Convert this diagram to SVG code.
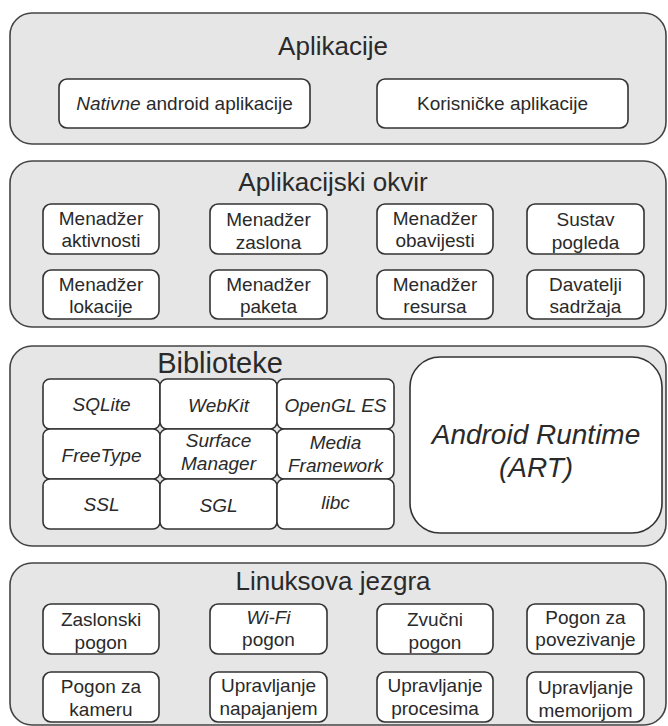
<svg xmlns="http://www.w3.org/2000/svg" width="668" height="726" viewBox="0 0 668 726">
<style>
.panel{fill:#e6e6e6;stroke:#444;stroke-width:1.6}
.box{fill:#fff;stroke:#333;stroke-width:1.6}
text{font-family:"Liberation Sans",Arial,sans-serif;fill:#2a2a2a;text-anchor:middle}
.t{font-size:26px}
.b{font-size:19px}
.i{font-style:italic}
.l{font-size:19px;font-style:italic}
.a{font-size:28px;font-style:italic}
</style>
<rect width="668" height="726" fill="#fff"/>
<g id="aplikacije">
<rect class="panel" x="10" y="13" width="656" height="131" rx="22"/>
<text class="t" x="333" y="55">Aplikacije</text>
<g id="nativne"><rect class="box" x="59" y="79" width="251" height="49" rx="8"/><text class="b" x="184.5" y="110"><tspan class="i">Nativne</tspan> android aplikacije</text></g>
<g id="korisnicke"><rect class="box" x="377" y="79" width="251" height="49" rx="8"/><text class="b" x="502.5" y="110">Korisničke aplikacije</text></g>
</g>
<g id="okvir">
<rect class="panel" x="10" y="161" width="656" height="166" rx="22"/>
<text class="t" x="333" y="191">Aplikacijski okvir</text>
<g id="m-akt"><rect class="box" x="43" y="204" width="116" height="50" rx="8"/><text class="b" x="101" y="225">Menadžer</text><text class="b" x="101" y="247">aktivnosti</text></g>
<g id="m-zas"><rect class="box" x="210" y="204" width="117" height="50" rx="8"/><text class="b" x="268.5" y="226">Menadžer</text><text class="b" x="268.5" y="249">zaslona</text></g>
<g id="m-obav"><rect class="box" x="377" y="204" width="116" height="50" rx="8"/><text class="b" x="435" y="225">Menadžer</text><text class="b" x="435" y="247">obavijesti</text></g>
<g id="sustav"><rect class="box" x="527" y="204" width="117" height="50" rx="8"/><text class="b" x="585.5" y="226">Sustav</text><text class="b" x="585.5" y="249">pogleda</text></g>
<g id="m-lok"><rect class="box" x="43" y="270" width="116" height="49" rx="8"/><text class="b" x="101" y="291">Menadžer</text><text class="b" x="101" y="313">lokacije</text></g>
<g id="m-pak"><rect class="box" x="210" y="270" width="117" height="49" rx="8"/><text class="b" x="268.5" y="291">Menadžer</text><text class="b" x="268.5" y="313">paketa</text></g>
<g id="m-res"><rect class="box" x="377" y="270" width="116" height="49" rx="8"/><text class="b" x="435" y="291">Menadžer</text><text class="b" x="435" y="313">resursa</text></g>
<g id="davatelji"><rect class="box" x="527" y="270" width="117" height="49" rx="8"/><text class="b" x="585.5" y="291">Davatelji</text><text class="b" x="585.5" y="313">sadržaja</text></g>
</g>
<g id="biblioteke">
<rect class="panel" x="10" y="346" width="656" height="200" rx="22"/>
<text class="t" x="220" y="373" style="font-size:29px">Biblioteke</text>
<g id="sqlite"><rect class="box" x="43" y="379" width="117" height="50" rx="7"/><text class="l" x="101.5" y="411">SQLite</text></g>
<g id="webkit"><rect class="box" x="160" y="379" width="117" height="50" rx="7"/><text class="l" x="218.5" y="412">WebKit</text></g>
<g id="opengl"><rect class="box" x="277" y="379" width="117" height="50" rx="7"/><text class="l" x="335.5" y="412">OpenGL ES</text></g>
<g id="freetype"><rect class="box" x="43" y="429" width="117" height="50" rx="7"/><text class="l" x="101.5" y="462">FreeType</text></g>
<g id="surface"><rect class="box" x="160" y="429" width="117" height="50" rx="7"/><text class="l" x="218.5" y="447">Surface</text><text class="l" x="218.5" y="470">Manager</text></g>
<g id="media"><rect class="box" x="277" y="429" width="117" height="50" rx="7"/><text class="l" x="335.5" y="449">Media</text><text class="l" x="335.5" y="472">Framework</text></g>
<g id="ssl"><rect class="box" x="43" y="479" width="117" height="50" rx="7"/><text class="l" x="101.5" y="511">SSL</text></g>
<g id="sgl"><rect class="box" x="160" y="479" width="117" height="50" rx="7"/><text class="l" x="218.5" y="512">SGL</text></g>
<g id="libc"><rect class="box" x="277" y="479" width="117" height="50" rx="7"/><text class="l" x="335.5" y="509">libc</text></g>
<g id="art"><rect class="box" x="410" y="357" width="252" height="176" rx="30"/><text class="a" x="536" y="444">Android Runtime</text><text class="a" x="536" y="477">(ART)</text></g>
</g>
<g id="jezgra">
<rect class="panel" x="10" y="563" width="656" height="162" rx="22"/>
<text class="t" x="333" y="590">Linuksova jezgra</text>
<g id="zaslonski"><rect class="box" x="43" y="604" width="116" height="50" rx="8"/><text class="b" x="101" y="626">Zaslonski</text><text class="b" x="101" y="649">pogon</text></g>
<g id="wifi"><rect class="box" x="210" y="604" width="117" height="50" rx="8"/><text class="b i" x="268.5" y="624">Wi-Fi</text><text class="b" x="268.5" y="646">pogon</text></g>
<g id="zvucni"><rect class="box" x="377" y="604" width="116" height="50" rx="8"/><text class="b" x="435" y="626">Zvučni</text><text class="b" x="435" y="649">pogon</text></g>
<g id="povezivanje"><rect class="box" x="527" y="604" width="117" height="50" rx="8"/><text class="b" x="585.5" y="624">Pogon za</text><text class="b" x="585.5" y="646">povezivanje</text></g>
<g id="kamera"><rect class="box" x="43" y="672" width="116" height="50" rx="8"/><text class="b" x="101" y="693">Pogon za</text><text class="b" x="101" y="716">kameru</text></g>
<g id="napajanje"><rect class="box" x="210" y="672" width="117" height="50" rx="8"/><text class="b" x="268.5" y="692">Upravljanje</text><text class="b" x="268.5" y="715">napajanjem</text></g>
<g id="procesi"><rect class="box" x="377" y="672" width="116" height="50" rx="8"/><text class="b" x="435" y="692">Upravljanje</text><text class="b" x="435" y="715">procesima</text></g>
<g id="memorija"><rect class="box" x="527" y="672" width="117" height="50" rx="8"/><text class="b" x="585.5" y="694">Upravljanje</text><text class="b" x="585.5" y="717">memorijom</text></g>
</g>
<g id="connectors"/>
</svg>
